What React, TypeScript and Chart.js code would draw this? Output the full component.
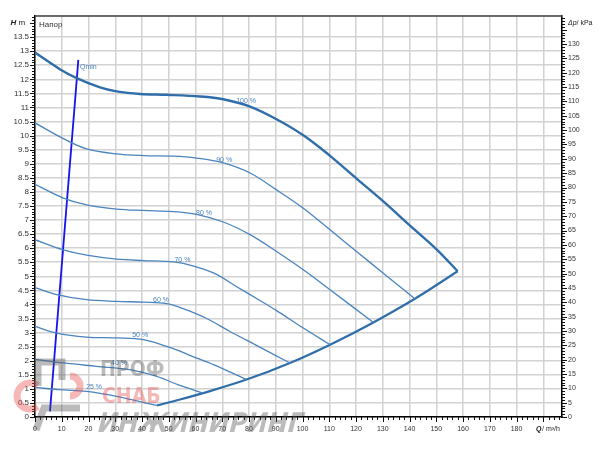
import React, { useEffect, useRef } from 'react';
import { Chart, registerables } from 'chart.js';

Chart.register(...registerables);

const FONT = '"Liberation Sans", Arial, sans-serif';

// Pump curves (Q in m³/h, H in m)
const Q100 = [0, 9.3, 15.6, 24.3, 30.5, 39.3, 49.2, 61.7, 70.4, 80.4, 90.3, 100.3, 110.3, 120.2, 130.2, 140.2, 150.2, 158];
const H100 = [12.95, 12.36, 12.04, 11.71, 11.57, 11.48, 11.45, 11.39, 11.29, 11.03, 10.58, 10.01, 9.28, 8.47, 7.66, 6.8, 5.95, 5.18];

const Q90 = [0, 10.6, 19.3, 30.5, 40.5, 51.7, 60.4, 70.4, 80.4, 90.3, 100.3, 110.3, 120.2, 130.2, 142];
const H90 = [10.45, 9.89, 9.53, 9.35, 9.29, 9.27, 9.2, 9.03, 8.67, 8.07, 7.42, 6.65, 5.88, 5.11, 4.2];

const Q80 = [0, 10.6, 19.3, 30.5, 40.5, 51.7, 60.4, 70.4, 80.4, 90.3, 100.3, 110.3, 126.5];
const H80 = [8.27, 7.78, 7.54, 7.39, 7.34, 7.3, 7.2, 6.93, 6.48, 5.88, 5.23, 4.52, 3.36];

const Q70 = [0, 10.6, 19.3, 30.5, 40.5, 49.2, 55.4, 66.7, 75.4, 84.1, 90.3, 100, 110.3];
const H70 = [6.3, 5.94, 5.75, 5.61, 5.56, 5.53, 5.46, 5.12, 4.63, 4.14, 3.78, 3.18, 2.57];

const Q60 = [0, 8.1, 19.3, 30.5, 40.5, 49.2, 55.4, 64.2, 72.9, 79.1, 95.3];
const H60 = [4.6, 4.35, 4.17, 4.11, 4.08, 4.03, 3.85, 3.5, 3.04, 2.73, 1.92];

const Q50 = [0, 8.1, 19.3, 30.5, 40.5, 49.2, 54.2, 57.9, 66.7, 79.1];
const H50 = [3.22, 2.98, 2.84, 2.81, 2.75, 2.51, 2.34, 2.19, 1.86, 1.33];

const Q40 = [0, 10.6, 23, 35.5, 45.5, 54.2, 62.9];
const H40 = [2.05, 1.92, 1.8, 1.68, 1.44, 1.12, 0.85];

const Q25 = [0, 9.3, 19.3, 30.5, 45.5];
const H25 = [1.05, 0.97, 0.91, 0.73, 0.41];

const QLIM = [45.5, 54.2, 62.9, 79.1, 95.3, 110.3, 126.5, 142, 158];
const HLIM = [0.41, 0.62, 0.85, 1.33, 1.92, 2.57, 3.36, 4.2, 5.18];

const QMIN_Q = [5.6, 16.2];
const QMIN_H = [0.2, 12.69];

// Curve labels and their anchor (data units)
const LABEL_TEXT = ['100 %', '90 %', '80 %', '70 %', '60 %', '50 %', '40 %', '25 %'];
const LABEL_Q = [78.9, 70.7, 63.2, 55.1, 47.1, 39.3, 31.4, 22.1];
const LABEL_H = [11.21, 9.14, 7.26, 5.56, 4.15, 2.92, 1.93, 1.08];

// Axis ranges / ticks
const X_MAX = 197;
const Y_MAX = 14.25;
const KPA_PER_M = 9.81;
const X_LAST_LABEL = 180;
const Y_LAST_LABEL = 13.5;
const Y2_LAST_LABEL = 130;

const pts = (q: number[], h: number[]) => q.map((x, i) => ({ x, y: h[i] }));

const THIN = '#4a84bd';
const THICK = '#2f6ea9';

const overlay = {
  id: 'overlay',
  afterDraw(chart: any) {
    const ctx = chart.ctx as CanvasRenderingContext2D;
    const xs = chart.scales.x;
    const ys = chart.scales.y;
    const y2 = chart.scales.y2;
    const { left, right, top, bottom } = chart.chartArea;
    ctx.save();

    // top border
    ctx.strokeStyle = '#444';
    ctx.lineWidth = 1.5;
    ctx.beginPath();
    ctx.moveTo(left, top);
    ctx.lineTo(right, top);
    ctx.stroke();

    // tick marks
    ctx.strokeStyle = '#111';
    ctx.lineWidth = 1;
    ctx.beginPath();
    for (let i = 0; i <= 142; i++) {
      const py = Math.round(ys.getPixelForValue(i / 10)) + 0.5;
      const len = i % 5 === 0 ? 5 : 3;
      ctx.moveTo(left - len, py);
      ctx.lineTo(left, py);
    }
    for (let i = 0; i <= 196; i += 2) {
      const px = Math.round(xs.getPixelForValue(i)) + 0.5;
      const len = i % 10 === 0 ? 5 : 3;
      ctx.moveTo(px, bottom);
      ctx.lineTo(px, bottom + len);
    }
    for (let i = 0; i <= 139; i++) {
      const py = Math.round(y2.getPixelForValue(i)) + 0.5;
      const len = i % 5 === 0 ? 5 : 3;
      ctx.moveTo(right, py);
      ctx.lineTo(right + len, py);
    }
    ctx.stroke();

    // axis titles
    ctx.fillStyle = '#222';
    ctx.textBaseline = 'middle';
    const yTitle = ys.getPixelForValue(14);
    ctx.textAlign = 'left';
    ctx.font = `bold italic 8px ${FONT}`;
    ctx.fillText('H', 10.5, yTitle);
    ctx.font = `8px ${FONT}`;
    ctx.fillText('m', 18.5, yTitle);

    ctx.font = `italic 7px ${FONT}`;
    ctx.fillText('Δp', 568, yTitle);
    ctx.font = `7px ${FONT}`;
    ctx.fillText('/ kPa', 576.5, yTitle);

    const xTitleY = bottom + 12;
    ctx.font = `bold italic 7px ${FONT}`;
    ctx.fillText('Q', 536, xTitleY);
    ctx.font = `7px ${FONT}`;
    ctx.fillText('/ m³/h', 542, xTitleY);

    ctx.font = `8px ${FONT}`;
    ctx.fillStyle = '#333';
    ctx.fillText('Напор', 39, yTitle + 2);

    // Qmin label
    ctx.font = `7px ${FONT}`;
    ctx.fillStyle = THIN;
    ctx.fillText('Qmin', 80, 67);

    // curve labels
    ctx.textAlign = 'center';
    ctx.fillStyle = THIN;
    LABEL_TEXT.forEach((t, i) => {
      ctx.fillText(t, xs.getPixelForValue(LABEL_Q[i]), ys.getPixelForValue(LABEL_H[i]));
    });

    // watermark
    ctx.globalAlpha = 0.4;
    ctx.lineCap = 'butt';
    const red = '#e84c4c';
    const gray = '#555';
    ctx.strokeStyle = red;
    ctx.lineWidth = 7;
    ctx.beginPath();
    ctx.arc(30, 396, 13, 0.3 * Math.PI, 1.7 * Math.PI);
    ctx.stroke();
    ctx.strokeStyle = gray;
    ctx.beginPath();
    ctx.moveTo(38, 386);
    ctx.lineTo(38, 362);
    ctx.lineTo(62, 362);
    ctx.lineTo(62, 380);
    ctx.stroke();
    ctx.strokeStyle = red;
    ctx.beginPath();
    ctx.arc(70, 386, 10, -0.5 * Math.PI, 0.5 * Math.PI);
    ctx.stroke();
    ctx.strokeStyle = gray;
    ctx.beginPath();
    ctx.moveTo(36, 430);
    ctx.lineTo(44, 408);
    ctx.lineTo(80, 408);
    ctx.stroke();

    ctx.textAlign = 'left';
    ctx.textBaseline = 'alphabetic';
    ctx.fillStyle = gray;
    ctx.font = `bold 21px "DejaVu Sans Condensed", "DejaVu Sans", sans-serif`;
    ctx.fillText('ПРОФ', 100, 376, 87);
    ctx.fillStyle = red;
    ctx.fillText('СНАБ', 102, 403, 85);
    ctx.fillStyle = gray;
    ctx.save();
    ctx.translate(96, 432);
    ctx.transform(1, 0, -0.25, 1, 0, 0);
    ctx.font = `bold 27px "DejaVu Sans Condensed", "DejaVu Sans", sans-serif`;
    ctx.fillText('ИНЖИНИРИНГ', 0, 0, 225);
    ctx.restore();

    ctx.restore();
  },
};

export default function App() {
  const ref = useRef<HTMLCanvasElement | null>(null);

  useEffect(() => {
    if (!ref.current) return;
    const curve = (q: number[], h: number[], color: string, width: number) => ({
      data: pts(q, h),
      showLine: true,
      borderColor: color,
      backgroundColor: color,
      borderWidth: width,
      pointRadius: 0,
      fill: false,
      tension: 0.35,
    });
    const chart = new Chart(ref.current, {
      type: 'scatter',
      data: {
        datasets: [
          curve(Q90, H90, THIN, 1.3),
          curve(Q80, H80, THIN, 1.3),
          curve(Q70, H70, THIN, 1.3),
          curve(Q60, H60, THIN, 1.3),
          curve(Q50, H50, THIN, 1.3),
          curve(Q40, H40, THIN, 1.3),
          curve(Q25, H25, THIN, 1.3),
          curve(QLIM, HLIM, THICK, 2.2),
          curve(Q100, H100, THICK, 2.4),
          { ...curve(QMIN_Q, QMIN_H, '#1414ee', 1.8), tension: 0 },
        ],
      },
      options: {
        responsive: false,
        maintainAspectRatio: false,
        animation: false,
        layout: { padding: { top: 16, left: 0, right: 0, bottom: 0 } },
        plugins: { legend: { display: false }, tooltip: { enabled: false } },
        scales: {
          x: {
            type: 'linear',
            position: 'bottom',
            min: 0,
            max: X_MAX,
            afterFit: (s: any) => { s.height = 34; },
            ticks: {
              stepSize: 10,
              autoSkip: false,
              maxRotation: 0,
              padding: 8,
              color: '#333',
              font: { size: 7, family: FONT },
              callback: (v: any) => (v <= X_LAST_LABEL ? String(v) : ''),
            },
            grid: { color: '#d2d2d2', lineWidth: 1.5, drawTicks: false },
            border: { display: true, color: '#000', width: 1.5 },
          },
          y: {
            type: 'linear',
            position: 'left',
            min: 0,
            max: Y_MAX,
            afterFit: (s: any) => { s.width = 35; },
            ticks: {
              stepSize: 0.5,
              autoSkip: false,
              padding: 6,
              color: '#333',
              font: { size: 8, family: FONT },
              callback: (v: any) => (v <= Y_LAST_LABEL ? String(v) : ''),
            },
            grid: { color: '#d2d2d2', lineWidth: 1.5, drawTicks: false },
            border: { display: true, color: '#000', width: 1.5 },
          },
          y2: {
            type: 'linear',
            position: 'right',
            min: 0,
            max: Y_MAX * KPA_PER_M,
            afterFit: (s: any) => { s.width = 38; },
            ticks: {
              stepSize: 5,
              autoSkip: false,
              padding: 6,
              color: '#333',
              font: { size: 7, family: FONT },
              callback: (v: any) => (v <= Y2_LAST_LABEL ? String(v) : ''),
            },
            grid: { display: false, drawTicks: false },
            border: { display: true, color: '#000', width: 1.5 },
          },
        },
      },
      plugins: [overlay],
    });
    return () => chart.destroy();
  }, []);

  return (
    <div style={{ position: 'absolute', left: 0, top: 0, width: 600, height: 451, background: '#fff' }}>
      <canvas ref={ref} width={600} height={451} style={{ display: 'block', width: 600, height: 451 }} />
    </div>
  );
}
